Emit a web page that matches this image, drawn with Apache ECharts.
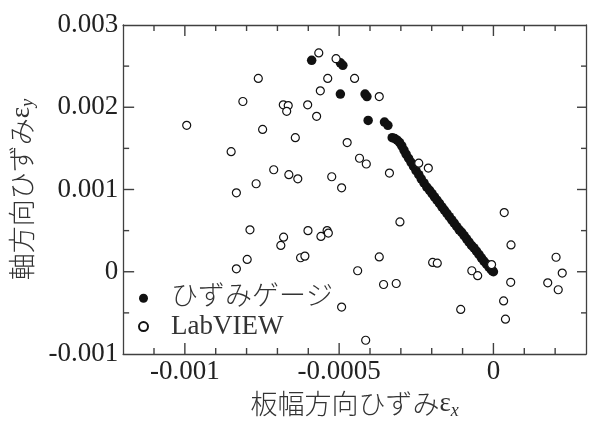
<!DOCTYPE html>
<html><head><meta charset="utf-8">
<script src="https://cdn.jsdelivr.net/npm/echarts@6/dist/echarts.min.js"></script>
<style>html,body{margin:0;padding:0;background:#fff}#c{width:594px;height:425px}</style>
</head><body><div id="c"></div>
<script>
// strain gauge (filled) – x: plate-width strain, y: axial strain
const gaugeX = [-5.89e-4,-4.96e-4,-4.88e-4,-4.96e-4,-4.16e-4,-4.10e-4,-4.06e-4,-3.53e-4,-3.42e-4,
  -3.28e-4,-3.20e-4,-3.12e-4,-3.04e-4,-2.97e-4,-2.90e-4,-2.83e-4,-2.75e-4,-2.67e-4,-2.59e-4,-2.51e-4,
  -2.42e-4,-2.34e-4,-2.25e-4,-2.16e-4,-2.07e-4,-1.99e-4,-1.91e-4,-1.83e-4,-1.75e-4,-1.67e-4,-1.59e-4,
  -1.51e-4,-1.43e-4,-1.35e-4,-1.27e-4,-1.19e-4,-1.11e-4,-1.03e-4,-0.95e-4,-0.87e-4,-0.79e-4,-0.71e-4,
  -0.63e-4,-0.55e-4,-0.47e-4,-0.39e-4,-0.31e-4,-0.23e-4,-0.15e-4,-0.08e-4,-0.03e-4,0];
const gaugeY = [25.7e-4,25.4e-4,25.1e-4,21.6e-4,21.6e-4,21.3e-4,18.4e-4,18.2e-4,17.8e-4,
  16.3e-4,16.2e-4,16.0e-4,15.7e-4,15.3e-4,14.8e-4,14.3e-4,13.8e-4,13.3e-4,12.8e-4,12.3e-4,
  11.8e-4,11.3e-4,10.8e-4,10.3e-4,9.9e-4,9.5e-4,9.1e-4,8.7e-4,8.3e-4,7.9e-4,7.5e-4,
  7.1e-4,6.7e-4,6.3e-4,5.9e-4,5.5e-4,5.1e-4,4.8e-4,4.4e-4,4.0e-4,3.6e-4,3.2e-4,
  2.9e-4,2.5e-4,2.1e-4,1.7e-4,1.3e-4,0.95e-4,0.6e-4,0.3e-4,0.1e-4,0];
// LabVIEW (open)
const labviewX = [-7.62e-4,-8.12e-4,-9.94e-4,-7.48e-4,-8.50e-4,-7.12e-4,-7.69e-4,-8.33e-4,-6.81e-4,-6.65e-4,
  -6.70e-4,-6.42e-4,-6.63e-4,-6.34e-4,-5.66e-4,-5.10e-4,-5.37e-4,-4.50e-4,-5.61e-4,-3.70e-4,
  -6.02e-4,-5.73e-4,-4.74e-4,-4.34e-4,-4.12e-4,-2.42e-4,-2.11e-4,-3.37e-4,-5.24e-4,-4.92e-4,
  -7.89e-4,-6.89e-4,-6.80e-4,-7.98e-4,-8.33e-4,-6.25e-4,-6.11e-4,-3.03e-4,-6.01e-4,-5.39e-4,
  -5.59e-4,-5.35e-4,-3.70e-4,-4.40e-4,-3.56e-4,-3.15e-4,-4.92e-4,-4.14e-4,-1.97e-4,-1.82e-4,
  0.35e-4,0.57e-4,2.03e-4,-0.06e-4,-0.70e-4,-0.51e-4,2.23e-4,0.56e-4,1.76e-4,2.10e-4,
  -1.06e-4,0.33e-4,0.39e-4];
const labviewY = [23.5e-4,20.7e-4,17.8e-4,17.3e-4,14.6e-4,12.4e-4,10.7e-4,9.6e-4,20.3e-4,20.2e-4,
  19.5e-4,16.3e-4,11.8e-4,11.3e-4,26.6e-4,25.9e-4,23.5e-4,23.5e-4,22.0e-4,21.3e-4,
  20.3e-4,18.9e-4,15.7e-4,13.8e-4,13.1e-4,13.2e-4,12.6e-4,12.0e-4,11.55e-4,10.2e-4,
  5.1e-4,3.2e-4,4.2e-4,1.5e-4,0.36e-4,1.7e-4,1.9e-4,6.06e-4,5.0e-4,5.0e-4,
  4.3e-4,4.7e-4,1.8e-4,0.12e-4,-1.55e-4,-1.43e-4,-4.3e-4,-8.33e-4,1.13e-4,1.04e-4,
  7.2e-4,3.26e-4,1.76e-4,0.87e-4,0.12e-4,-0.48e-4,-0.16e-4,-1.28e-4,-1.35e-4,-2.19e-4,
  -4.58e-4,-3.55e-4,-5.77e-4];
const seriesNames = ['ひずみゲージ', 'LabVIEW'];
const xRange = [-0.0012, 0.0003];
const yRange = [-0.001, 0.003];
// tick positions (labels at the multiples of 0.0005 on x, 0.001 on y)
const xTickValues = [-0.0011,-0.001,-0.0009,-0.0008,-0.0007,-0.0006,-0.0005,-0.0004,-0.0003,-0.0002,-0.0001,0,0.0001,0.0002];
const yTickValues = [-0.0005,0,0.0005,0.001,0.0015,0.002,0.0025];

const serif = "'Liberation Serif','Times New Roman',serif";
const jp = "'Noto Sans CJK JP'";
const axisColor = '#404040';
const zip = (a, b) => a.map((v, i) => [v, b[i]]);
const fmt = v => String(Math.round(v * 1e6) / 1e6);
const isMult = (v, m) => Math.abs(v / m - Math.round(v / m)) < 1e-6;

// tick items: [x, y, length, side]  side: 0 bottom, 1 top, 2 left, 3 right
const tickItems = [];
xTickValues.forEach(v => {
  const major = isMult(v, 0.0005);
  tickItems.push([v, yRange[0], major ? 11 : 6, 0]);
  tickItems.push([v, yRange[1], major ? 11 : 6, 1]);
});
yTickValues.forEach(v => {
  const major = isMult(v, 0.001);
  tickItems.push([xRange[0], v, major ? 11 : 6, 2]);
  tickItems.push([xRange[1], v, major ? 9 : 5, 3]);
});

function xAxisDef(pos, withLabels) {
  const a = {
    type: 'value', position: pos, min: xRange[0], max: xRange[1], interval: 0.0001,
    axisLine: {show: true, onZero: false, lineStyle: {color: axisColor, width: 1.3}},
    axisTick: {show: false}, splitLine: {show: false}, axisLabel: {show: false}
  };
  if (withLabels) {
    a.axisLabel = {show: true, margin: 4, fontFamily: serif, fontSize: 27, color: '#222',
      formatter: v => isMult(v, 0.0005) ? fmt(v) : ''};
  }
  return a;
}
function yAxisDef(pos, withLabels) {
  const a = {
    type: 'value', position: pos, min: yRange[0], max: yRange[1], interval: 0.001,
    axisLine: {show: true, onZero: false, lineStyle: {color: axisColor, width: 1.3}},
    axisTick: {show: false}, splitLine: {show: false}, axisLabel: {show: false}
  };
  if (withLabels) {
    a.axisLabel = {show: true, margin: 5, fontFamily: serif, fontSize: 27, color: '#222', formatter: v => fmt(v)};
  }
  return a;
}
const titleRich = {
  a: {fontFamily: jp, fontSize: 27, fontWeight: 300, color: '#333', lineHeight: 32},
  b: {fontFamily: serif, fontSize: 27, color: '#333', lineHeight: 32},
  c: {fontFamily: serif, fontSize: 18, fontStyle: 'italic', color: '#333', lineHeight: 14, verticalAlign: 'bottom'}
};
const xBottom = xAxisDef('bottom', true);
Object.assign(xBottom, {name: '{a|板幅方向ひずみ}{b|ε}{c|x}', nameLocation: 'middle', nameGap: 34, nameTextStyle: {rich: titleRich}});
const yLeft = yAxisDef('left', true);
Object.assign(yLeft, {name: '{a|軸方向ひずみ}{b|ε}{c|y}', nameLocation: 'middle', nameGap: 81, nameTextStyle: {rich: titleRich}});

const chart = echarts.init(document.getElementById('c'));
chart.setOption({
  animation: false,
  grid: {left: 122, right: 8, top: 25, bottom: 65},
  xAxis: [xBottom, xAxisDef('top', false)],
  yAxis: [yLeft, yAxisDef('right', false)],
  legend: {
    data: seriesNames, orient: 'vertical', left: 138, top: 284, padding: 0,
    itemWidth: 9, itemHeight: 9, itemGap: 0,
    textStyle: {fontFamily: serif + ",'Noto Sans CJK JP'", fontSize: 27, fontWeight: 300, color: '#333',
      lineHeight: 28.4, padding: [0, 0, 0, 18]}
  },
  series: [
    {
      name: seriesNames[0], type: 'scatter', data: zip(gaugeX, gaugeY), symbol: 'circle', symbolSize: 9.5,
      itemStyle: {color: '#111', borderWidth: 0, opacity: 1}, z: 2
    },
    {
      name: seriesNames[1], type: 'scatter', data: zip(labviewX, labviewY), symbol: 'circle', symbolSize: 8,
      itemStyle: {color: '#fff', borderColor: '#111', borderWidth: 1.2, opacity: 1}, z: 3
    },
    {
      name: 'ticks', type: 'custom', z: 6, data: tickItems,
      encode: {x: 0, y: 1},
      renderItem: (params, api) => {
        const len = api.value(2), side = api.value(3);
        const p = api.coord([api.value(0), api.value(1)]);
        const w = 1.4;
        let shape;
        if (side === 0) shape = {x: p[0] - w / 2, y: p[1] - len, width: w, height: len};
        else if (side === 1) shape = {x: p[0] - w / 2, y: p[1], width: w, height: len};
        else if (side === 2) shape = {x: p[0], y: p[1] - w / 2, width: len, height: w};
        else shape = {x: p[0] - len, y: p[1] - w / 2, width: len, height: w};
        return {type: 'rect', shape: shape, style: {fill: axisColor}};
      }
    }
  ]
});
</script></body></html>
